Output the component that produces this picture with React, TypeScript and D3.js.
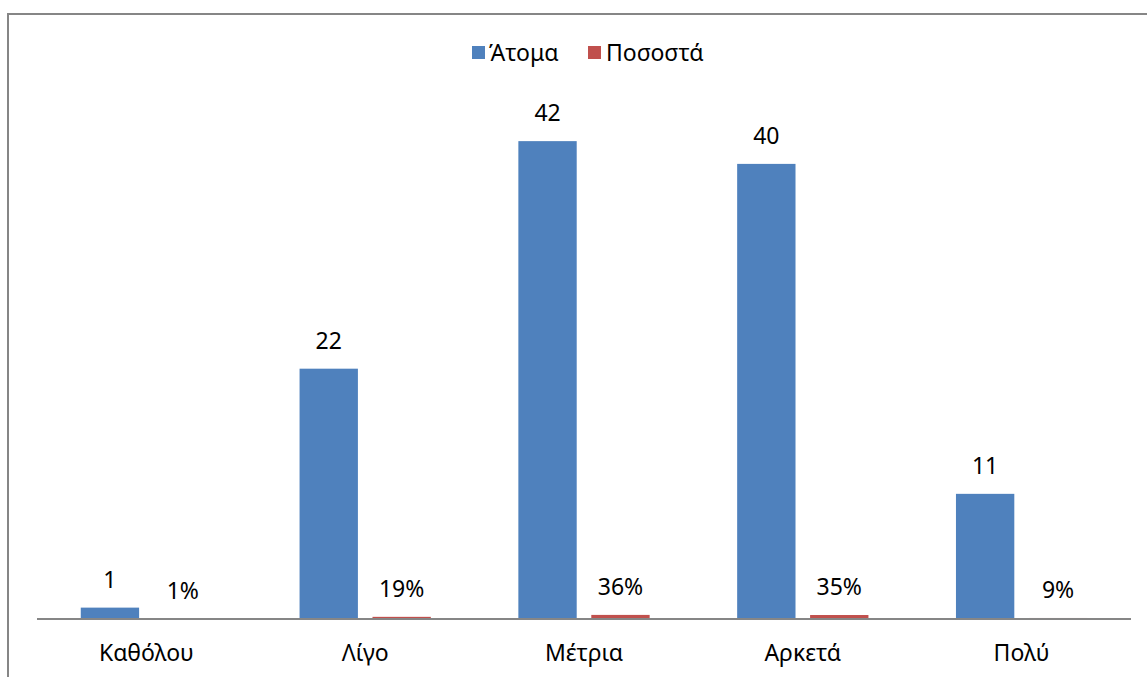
import React from "react";
import * as d3 from "d3";

const categories = ["Καθόλου", "Λίγο", "Μέτρια", "Αρκετά", "Πολύ"];
const atoma = [1, 22, 42, 40, 11];
const pososta = [0.01, 0.19, 0.36, 0.35, 0.09];
const seriesNames = ["Άτομα", "Ποσοστά"];
const seriesColors = ["#4F81BD", "#C0504D"];

const W = 1147;
const H = 677;
const FONT = "'Noto Sans', 'Open Sans', sans-serif";

export default function App() {
  const plotLeft = 37;
  const plotRight = 1131;
  const baseY = 619;
  const x = d3.scaleBand<string>().domain(categories).range([plotLeft, plotRight]);
  const y = d3.scaleLinear().domain([0, 45]).range([baseY, 107]);
  const bw = x.bandwidth() / 3.75;
  const gap = bw * 0.25;
  const series = [atoma, pososta];
  const fmt = [(v: number) => String(v), d3.format(".0%")];

  return (
    <svg
      width={W}
      height={H}
      style={{ position: "fixed", left: 0, top: 0, background: "#fff" }}
      fontFamily={FONT}
    >
      <rect x={0} y={0} width={W} height={H} fill="#fff" />
      <rect x={8} y={14} width={W + 20} height={H + 20} fill="none" stroke="#868686" strokeWidth={2} />
      {series.map((vals, si) =>
        vals.map((v, i) => {
          const bx = (x(categories[i]) as number) + bw * 0.75 + si * (bw + gap);
          const top = y(v);
          return (
            <g key={`${si}-${i}`}>
              <rect x={bx} y={top} width={bw} height={baseY - top} fill={seriesColors[si]} />
              <text
                x={bx + bw / 2}
                y={top - 20}
                textAnchor="middle"
                fontSize={23}
                fill="#000"
              >
                {fmt[si](v)}
              </text>
            </g>
          );
        })
      )}
      <line x1={plotLeft} x2={plotRight} y1={baseY} y2={baseY} stroke="#868686" strokeWidth={2} />
      {categories.map((c) => (
        <text
          key={c}
          x={(x(c) as number) + x.bandwidth() / 2}
          y={661}
          textAnchor="middle"
          fontSize={23}
          fill="#000"
        >
          {c}
        </text>
      ))}
      <g>
        <rect x={472} y={46} width={13} height={13} fill={seriesColors[0]} />
        <text x={489} y={61} fontSize={23} fill="#000">{seriesNames[0]}</text>
        <rect x={588} y={46} width={13} height={13} fill={seriesColors[1]} />
        <text x={606} y={61} fontSize={23} fill="#000">{seriesNames[1]}</text>
      </g>
    </svg>
  );
}
